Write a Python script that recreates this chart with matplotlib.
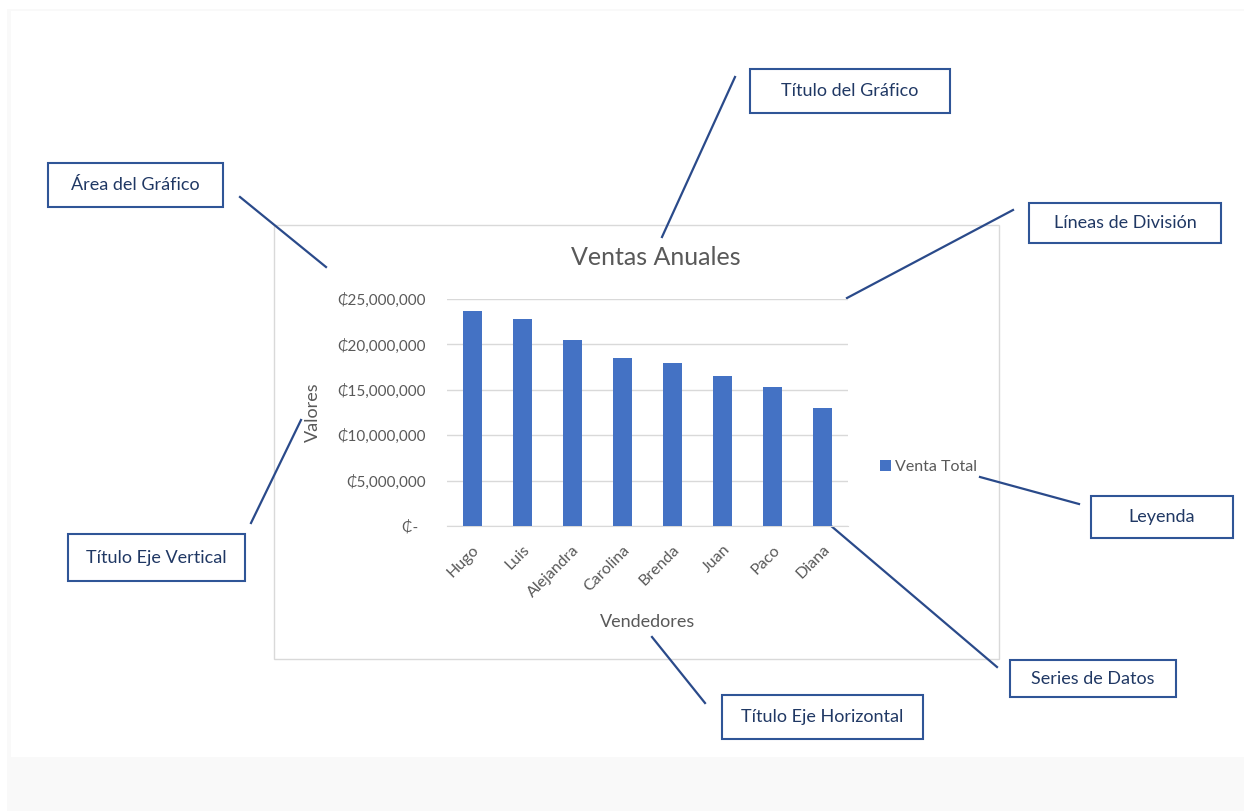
import matplotlib.pyplot as plt
from matplotlib.patches import Rectangle
import numpy as np

plt.rcParams['font.family'] = ['Lato', 'DejaVu Sans']

# sales per seller
vendedores = ['Hugo', 'Luis', 'Alejandra', 'Carolina', 'Brenda', 'Juan', 'Paco', 'Diana']
ventas = [23.7e6, 22.8e6, 20.5e6, 18.5e6, 17.9e6, 16.5e6, 15.3e6, 13.0e6]
yticks = [0, 5e6, 10e6, 15e6, 20e6, 25e6]
ytick_labels = ['₵-  ', '₵5,000,000', '₵10,000,000', '₵15,000,000', '₵20,000,000', '₵25,000,000']

# callout boxes: text, box (x0, y0, x1, y1) in pixels, leader line
callouts = [
    ('Título del Gráfico', (750, 69, 950, 113), [(735, 77), (662, 237)]),
    ('Área del Gráfico', (48, 163, 223, 207), [(240, 197), (326, 267)]),
    ('Líneas de División', (1029, 203, 1221, 243), [(1013, 210), (847, 298)]),
    ('Título Eje Vertical', (68, 534, 245, 581), [(251, 523), (301, 420)]),
    ('Leyenda', (1091, 496, 1233, 538), [(980, 477), (1079, 504)]),
    ('Series de Datos', (1010, 660, 1176, 697), [(830, 525), (997, 667)]),
    ('Título Eje Horizontal', (722, 695, 923, 739), [(652, 637), (705, 703)]),
]

W, H = 1244, 811
fig = plt.figure(figsize=(W / 100, H / 100), dpi=100)
fig.patch.set_facecolor('white')

# full-figure overlay in pixel coordinates
bg = fig.add_axes([0, 0, 1, 1])
bg.set_xlim(0, W)
bg.set_ylim(H, 0)
bg.axis('off')
bg.add_patch(Rectangle((7, 9), W - 7, H - 9, facecolor='#f9f9f9', edgecolor='none'))
bg.add_patch(Rectangle((11, 11), W - 11, 746, facecolor='white', edgecolor='none'))
# chart area frame
bg.add_patch(Rectangle((274, 225), 725, 434, facecolor='white', edgecolor='#d9d9d9', lw=1.0))

for texto, (x0, y0, x1, y1), linea in callouts:
    bg.add_patch(Rectangle((x0, y0), x1 - x0, y1 - y0, facecolor='white',
                           edgecolor='#2f5597', lw=1.5, zorder=3))
    bg.text((x0 + x1) / 2, (y0 + y1) / 2, texto, ha='center', va='center',
            fontsize=13, color='#203864', zorder=4)
    (lx0, ly0), (lx1, ly1) = linea
    bg.plot([lx0, lx1], [ly0, ly1], color='#2a4a8a', lw=1.6, zorder=5)

# the chart itself
ax = fig.add_axes([447 / W, 1 - 526 / H, 401 / W, 227 / H])
ax.patch.set_alpha(0)
x = np.arange(len(vendedores))
ax.bar(x, ventas, width=0.38, color='#4472c4', zorder=3, label='Venta Total')
ax.set_xlim(-0.5, len(vendedores) - 0.5)
ax.set_ylim(0, 25e6)
ax.set_yticks(yticks)
ax.set_yticklabels(ytick_labels)
ax.set_xticks(x)
ax.set_xticklabels(vendedores, rotation=45, ha='right', rotation_mode='anchor')
ax.tick_params(axis='both', length=0, colors='#595959')
ax.tick_params(axis='x', pad=12, labelsize=11.5)
ax.tick_params(axis='y', pad=15, labelsize=11)
ax.grid(axis='y', color='#d9d9d9', lw=1.0, zorder=0)
for s in ['top', 'right', 'left']:
    ax.spines[s].set_visible(False)
ax.spines['bottom'].set_color('#d9d9d9')

fig.text(656 / W, 1 - 257 / H, 'Ventas Anuales', ha='center', va='center',
         fontsize=18, color='#595959')
fig.text(648 / W, 1 - 622 / H, 'Vendedores', ha='center', va='center',
         fontsize=13, color='#595959')
fig.text(313 / W, 1 - 412 / H, 'Valores', ha='center', va='center',
         rotation=90, fontsize=13, color='#595959')

ax.legend(loc='center left', bbox_to_anchor=(872 / W, 1 - 467 / H),
          bbox_transform=fig.transFigure, frameon=False, fontsize=11.5,
          labelcolor='#595959', handlelength=0.7, handleheight=0.7,
          handletextpad=0.25, borderpad=0)

fig.savefig('out.png', dpi=100, facecolor=fig.get_facecolor())
